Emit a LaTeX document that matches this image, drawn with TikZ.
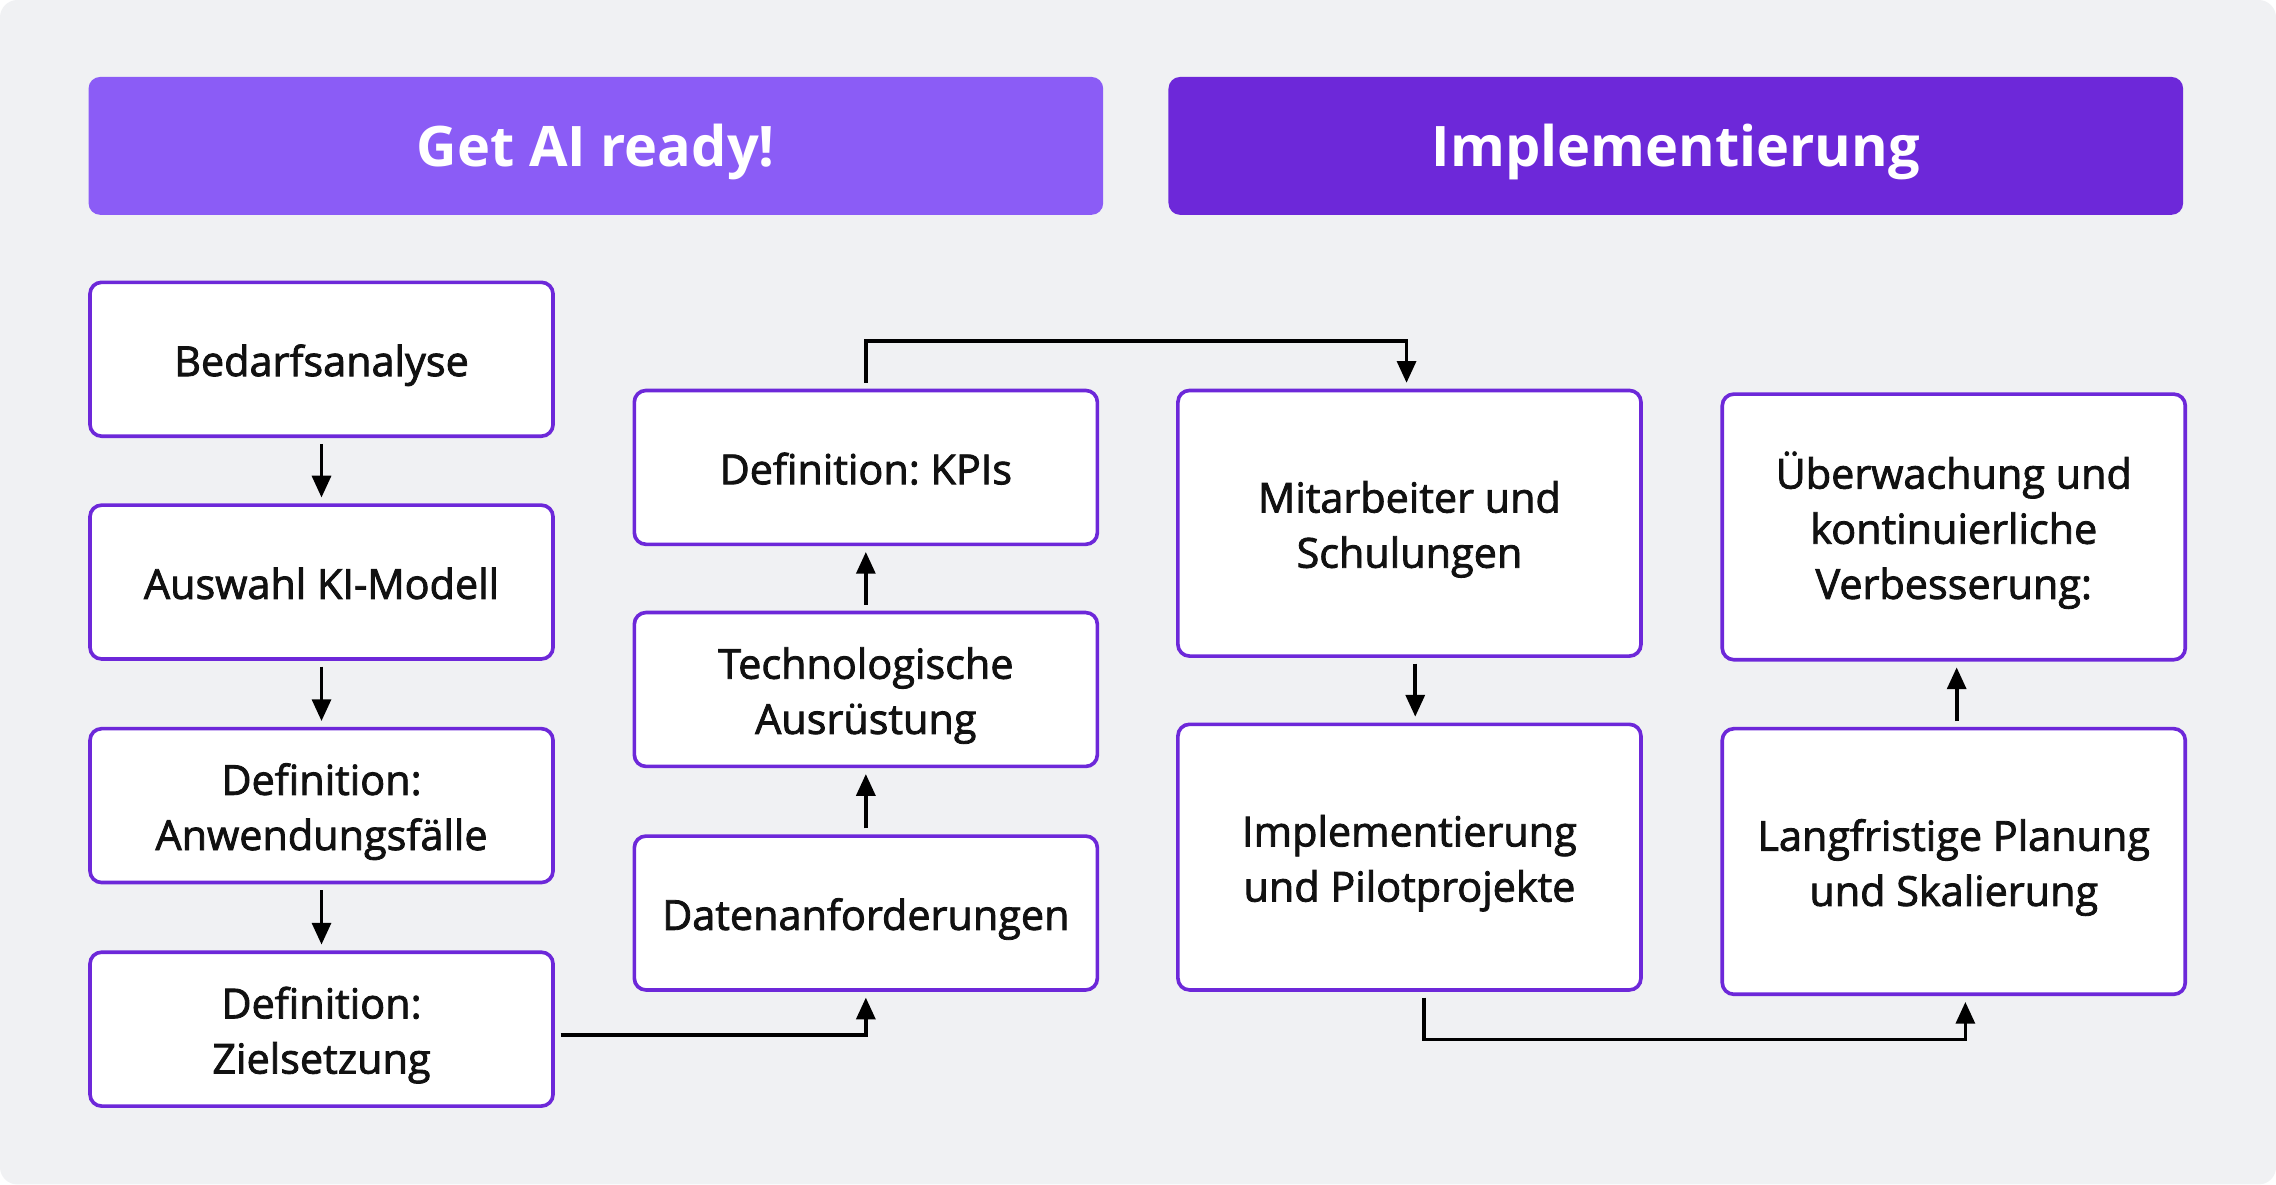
\documentclass[tikz,border=0pt]{standalone}
\usepackage{fontspec}
\setmainfont{Open Sans}
\newfontfamily\semibold[FakeBold=2]{Open Sans}
\usetikzlibrary{arrows.meta}
\definecolor{bgray}{HTML}{F0F1F3}
\definecolor{lilac}{HTML}{8B5CF6}
\definecolor{violet}{HTML}{6D28D9}
\definecolor{ink}{HTML}{111111}
\frenchspacing
\newcommand{\cardtext}[1]{\raisebox{-4pt}[\height][\depth]{\begin{tabular}{@{}c@{}}#1\end{tabular}}}
\begin{document}
\begin{tikzpicture}[x=1pt, y=-1pt,
        header/.style = {rounded corners=8pt, text=white, font=\fontsize{38.5}{40}\selectfont\bfseries, minimum width=699pt, minimum height=95pt, text height=29pt, text depth=0pt},
        card/.style = {draw=violet, line width=2.5pt, fill=white, rounded corners=8pt, text=ink, minimum width=319pt, font=\fontsize{28.5}{38}\selectfont\semibold},
        small/.style = {card, minimum height=106pt},
        tall/.style = {card, minimum height=183pt},
        arr/.style = {-{Triangle[width=13pt,length=15pt]}, line width=2.5pt, shorten <=4pt, shorten >=4pt}]
        \useasboundingbox (0,0) rectangle (1568,816);
        \fill[white] (0,0) rectangle (1568,816);
        \fill[bgray, rounded corners=12pt] (0,0) rectangle (1568,816);

        \node[header, fill=lilac] (ready) at (410.5,100.5) {Get AI ready!};
        \node[header, fill=violet] (impl) at (1154.5,100.5) {Implementierung};

        \node[small] (bedarf) at (221.5,247.5) {\cardtext{Bedarfsanalyse}};
        \node[small] (modell) at (221.5,401) {\cardtext{Auswahl KI-Modell}};
        \node[small] (faelle) at (221.5,555) {\cardtext{Definition:\\Anwendungsfälle}};
        \node[small] (ziel) at (221.5,709) {\cardtext{Definition:\\Zielsetzung}};

        \node[small] (kpi) at (596.5,322) {\cardtext{Definition: KPIs}};
        \node[small] (tech) at (596.5,475) {\cardtext{Technologische\\Ausrüstung}};
        \node[small] (daten) at (596.5,629) {\cardtext{Datenanforderungen}};

        \node[tall] (team) at (971,360.5) {\cardtext{Mitarbeiter und\\Schulungen}};
        \node[tall] (pilot) at (971,590.5) {\cardtext{Implementierung\\und Pilotprojekte}};

        \node[tall] (monitor) at (1346,363) {\cardtext{Überwachung und\\kontinuierliche\\Verbesserung:}};
        \node[tall] (scale) at (1346,593.5) {\cardtext{Langfristige Planung\\und Skalierung}};

        \draw[arr] (bedarf) -- (modell);
        \draw[arr] (modell) -- (faelle);
        \draw[arr] (faelle) -- (ziel);
        \draw[arr] ([yshift=-4pt]ziel.east) -| (daten.south);
        \draw[arr] (daten) -- (tech);
        \draw[arr] (tech) -- (kpi);
        \draw[arr] (kpi.north) -- ++(0,-33) -| ([xshift=-2pt]team.north);
        \draw[arr] ([xshift=4pt]team.south) -- ([xshift=4pt]pilot.north);
        \draw[arr] ([xshift=10pt]pilot.south) -- ++(0,33) -| ([xshift=8pt]scale.south);
        \draw[arr] ([xshift=2pt]scale.north) -- ([xshift=2pt]monitor.south);

    \end{tikzpicture}
\end{document}
